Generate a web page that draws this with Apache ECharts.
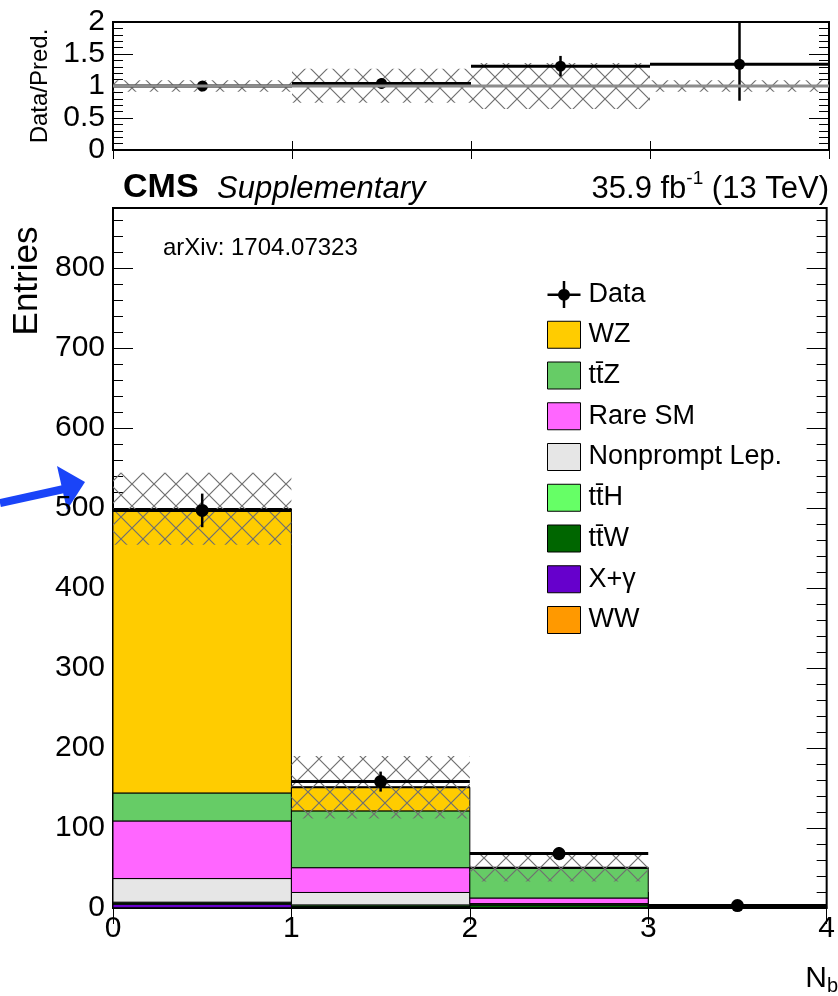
<!DOCTYPE html>
<html>
<head>
<meta charset="utf-8">
<script src="https://cdn.jsdelivr.net/npm/echarts@6/dist/echarts.min.js"></script>
<style>
html, body { margin: 0; padding: 0; background: #fff; }
#chart { width: 838px; height: 996px; }
</style>
</head>
<body>
<div id="chart"></div>
<script>
// ---- binning (number of b jets) ----
const binEdges = [0, 1, 2, 3, 4];
const xTickLabels = ['0', '1', '2', '3', '4'];

// ---- expected yields per bin, listed from the bottom of the stack upwards ----
const wwYield        = [0.3, 0.1, 0.0, 0.0];
const xGammaYield    = [4.5, 0.8, 0.3, 0.0];
const ttWYield       = [1.5, 1.5, 3.5, 1.2];
const ttHYield       = [1.0, 1.5, 1.2, 0.2];
const nonpromptYield = [29.5, 15.5, 0.5, 0.0];
const rareYield      = [72.0, 31.0, 7.0, 0.3];
const ttZYield       = [35.0, 71.0, 37.5, 0.5];
const wzYield        = [355.0, 29.5, 0.3, 0.0];

// ---- observed data ----
const dataCounts = [497, 158, 68, 3];
const dataErr    = [21, 12.5, 8.2, 1.7];

// ---- total prediction uncertainty band ----
const bandLow  = [454, 112, 33, 2.0];
const bandHigh = [544, 190, 69, 2.4];

// ---- data / prediction ----
const ratioValues    = [1.00, 1.04, 1.31, 1.34];
const ratioErrLow    = [0.05, 0.08, 0.16, 0.57];
const ratioErrHigh   = [0.05, 0.08, 0.16, 0.90];
const ratioBandLow   = [0.91, 0.74, 0.64, 0.91];
const ratioBandHigh  = [1.09, 1.27, 1.36, 1.09];

// ---- axis ticks ----
const mainYMax = 875, mainYMajor = 100, mainYMinor = 20;
const ratioYMax = 2, ratioYMajor = 0.5, ratioYMinor = 0.1;
const ratioTickLabels = { 0: '0', 0.5: '0.5', 1: '1', 1.5: '1.5', 2: '2' };

// processes: stacked order (bottom first), legend order is the reverse
const processes = [
  { name: 'WW',             yields: wwYield,        color: '#ff9900' },
  { name: 'X+γ',            yields: xGammaYield,    color: '#6600cc' },
  { name: 'tt\u0304W',      yields: ttWYield,       color: '#006600' },
  { name: 'tt\u0304H',      yields: ttHYield,       color: '#66ff66' },
  { name: 'Nonprompt Lep.', yields: nonpromptYield, color: '#e6e6e6' },
  { name: 'Rare SM',        yields: rareYield,      color: '#ff66ff' },
  { name: 'tt\u0304Z',      yields: ttZYield,       color: '#66cc66' },
  { name: 'WZ',             yields: wzYield,        color: '#ffcc00' }
];

const FONT = '"Liberation Sans", Arial, Helvetica, sans-serif';

// cross-hatch fill used for the uncertainty bands
function makeHatch() {
  const s = 22;
  const c = document.createElement('canvas');
  c.width = s; c.height = s;
  const g = c.getContext('2d');
  g.strokeStyle = '#707070';
  g.lineWidth = 1.2;
  g.beginPath();
  g.moveTo(-1, -1); g.lineTo(s + 1, s + 1);
  g.moveTo(s + 1, -1); g.lineTo(-1, s + 1);
  g.stroke();
  return c;
}
const hatch = makeHatch();

// stacked rectangles for each process
const bottoms = binEdges.slice(0, -1).map(() => 0);
const stackSeries = processes.map(p => {
  const rows = p.yields.map((v, i) => {
    const lo = bottoms[i];
    bottoms[i] += v;
    return [binEdges[i], binEdges[i + 1], lo, lo + v];
  });
  return {
    type: 'custom', name: p.name, xAxisIndex: 0, yAxisIndex: 0,
    itemStyle: { color: p.color },
    encode: { x: [0, 1], y: [2, 3] },
    data: rows,
    renderItem: (params, api) => {
      const lo = api.value(2), hi = api.value(3);
      if (!(hi > lo)) return null;
      const a = api.coord([api.value(0), hi]);
      const b = api.coord([api.value(1), lo]);
      return { type: 'rect',
        shape: { x: a[0], y: a[1], width: b[0] - a[0], height: b[1] - a[1] },
        style: { fill: api.visual('color'), stroke: '#000', lineWidth: 1 } };
    }
  };
});
const totals = bottoms.slice();

// outline on top of the stack
const stackTopSeries = {
  type: 'custom', xAxisIndex: 0, yAxisIndex: 0, silent: true,
  encode: { x: [0, 1], y: 2 },
  data: totals.map((t, i) => [binEdges[i], binEdges[i + 1], t]),
  renderItem: (params, api) => {
    const a = api.coord([api.value(0), api.value(2)]);
    const b = api.coord([api.value(1), api.value(2)]);
    return { type: 'line', shape: { x1: a[0], y1: a[1], x2: b[0], y2: b[1] },
      style: { stroke: '#000', lineWidth: 2 } };
  }
};

function bandSeries(lows, highs, xi, yi) {
  return {
    type: 'custom', xAxisIndex: xi, yAxisIndex: yi, silent: true,
    encode: { x: [0, 1], y: [2, 3] },
    data: lows.map((l, i) => [binEdges[i], binEdges[i + 1], l, highs[i]]),
    renderItem: (params, api) => {
      const a = api.coord([api.value(0), api.value(3)]);
      const b = api.coord([api.value(1), api.value(2)]);
      return { type: 'rect',
        shape: { x: a[0], y: a[1], width: b[0] - a[0], height: b[1] - a[1] },
        style: { fill: { image: hatch, repeat: 'repeat' } } };
    }
  };
}

function pointSeries(name, values, errLo, errHi, xi, yi, yMax, r) {
  return {
    type: 'custom', name: name, xAxisIndex: xi, yAxisIndex: yi,
    itemStyle: { color: '#000' },
    encode: { x: [0, 1], y: 2 },
    data: values.map((v, i) => [binEdges[i], binEdges[i + 1], v, v - errLo[i], Math.min(v + errHi[i], yMax)]),
    renderItem: (params, api) => {
      const xc = (api.value(0) + api.value(1)) / 2;
      const l = api.coord([api.value(0), api.value(2)]);
      const rr = api.coord([api.value(1), api.value(2)]);
      const c = api.coord([xc, api.value(2)]);
      const lo = api.coord([xc, api.value(3)]);
      const hi = api.coord([xc, api.value(4)]);
      return { type: 'group', children: [
        { type: 'line', shape: { x1: l[0], y1: l[1], x2: rr[0], y2: rr[1] }, style: { stroke: '#000', lineWidth: 3 } },
        { type: 'line', shape: { x1: c[0], y1: lo[1], x2: c[0], y2: hi[1] }, style: { stroke: '#000', lineWidth: 2.5 } },
        { type: 'circle', shape: { cx: c[0], cy: c[1], r: r }, style: { fill: '#000' } }
      ] };
    }
  };
}

const unityLine = {
  type: 'line', xAxisIndex: 2, yAxisIndex: 4, silent: true, symbol: 'none',
  lineStyle: { color: '#8c8c8c', width: 3 },
  data: [[binEdges[0], 1], [binEdges[binEdges.length - 1], 1]]
};

// axes helpers
function xAx(grid, pos, tickLen, showLabel) {
  return {
    type: 'value', gridIndex: grid, position: pos,
    min: binEdges[0], max: binEdges[binEdges.length - 1], interval: 1,
    axisLine: { show: false },
    axisTick: { show: true, inside: true, length: tickLen, lineStyle: { color: '#000', width: 1 } },
    axisLabel: { show: showLabel, margin: 6, fontSize: 30, color: '#000', fontFamily: FONT,
      formatter: v => xTickLabels[binEdges.indexOf(v)] ?? '' },
    splitLine: { show: false }
  };
}
function yAx(grid, pos, max, interval, tickLen, labels) {
  return {
    type: 'value', gridIndex: grid, position: pos, min: 0, max: max, interval: interval,
    axisLine: { show: false },
    axisTick: { show: true, inside: true, length: tickLen, lineStyle: { color: '#000', width: 1 } },
    axisLabel: labels ? Object.assign({ show: true, margin: 8, fontSize: 30, color: '#000', fontFamily: FONT }, labels) : { show: false },
    splitLine: { show: false }
  };
}

const mainLabels = { formatter: v => (v % mainYMajor === 0 ? String(v) : '') };
const ratioLabels = { formatter: v => ratioTickLabels[Math.round(v * 10) / 10] ?? '' };

const legendData = [{ name: 'Data',
  icon: 'path://M0,12.5h33v2.5h-33z M15.25,0h2.5v27h-2.5z M10.5,13.75a6,6 0 1,1 12,0a6,6 0 1,1 -12,0z',
  itemStyle: { borderWidth: 0 } }]
  .concat(processes.slice().reverse().map(p => ({ name: p.name })));

const option = {
  animation: false,
  backgroundColor: '#fff',
  grid: [
    { left: 113, right: 9, top: 208, bottom: 88, show: true, borderColor: '#000', borderWidth: 2, backgroundColor: 'transparent' },
    { left: 113, right: 9, top: 22, height: 128, show: true, borderColor: '#000', borderWidth: 2, backgroundColor: 'transparent' }
  ],
  xAxis: [
    xAx(0, 'bottom', 16, true),
    xAx(0, 'top', 16, false),
    xAx(1, 'bottom', 9, false),
    xAx(1, 'top', 9, false)
  ],
  yAxis: [
    yAx(0, 'left', mainYMax, mainYMajor, 20, mainLabels),
    yAx(0, 'left', mainYMax, mainYMinor, 10, null),
    yAx(0, 'right', mainYMax, mainYMajor, 20, null),
    yAx(0, 'right', mainYMax, mainYMinor, 10, null),
    Object.assign(yAx(1, 'left', ratioYMax, ratioYMajor, 20, ratioLabels), {
      name: 'Data/Pred.', nameLocation: 'middle', nameGap: 60, nameRotate: 90,
      nameTextStyle: { fontSize: 24, color: '#000', fontFamily: FONT } }),
    yAx(1, 'left', ratioYMax, ratioYMinor, 10, null),
    yAx(1, 'right', ratioYMax, ratioYMajor, 20, null),
    yAx(1, 'right', ratioYMax, ratioYMinor, 10, null)
  ],
  legend: {
    orient: 'vertical', left: 542, top: 276,
    itemWidth: 33, itemHeight: 27, itemGap: 12.75,
    icon: 'rect', selectedMode: false,
    itemStyle: { borderColor: '#000', borderWidth: 1 },
    textStyle: { fontSize: 27, lineHeight: 27, color: '#000', fontFamily: FONT, padding: [0, 0, 0, 3] },
    data: legendData
  },
  series: stackSeries.concat([
    stackTopSeries,
    bandSeries(bandLow, bandHigh, 0, 0),
    pointSeries('Data', dataCounts, dataErr, dataErr, 0, 0, mainYMax, 6.5),
    unityLine,
    bandSeries(ratioBandLow, ratioBandHigh, 2, 4),
    pointSeries('Ratio', ratioValues, ratioErrLow, ratioErrHigh, 2, 4, ratioYMax, 5.5)
  ])
};

const chart = echarts.init(document.getElementById('chart'), null, { renderer: 'canvas' });
chart.setOption(option);

// text measuring for the luminosity label
const mctx = document.createElement('canvas').getContext('2d');
function tw(str, size) { mctx.font = size + 'px ' + FONT; return mctx.measureText(str).width; }
const lumiRight = 829;
const tailW = tw(' (13 TeV)', 31);
const supW = tw('-1', 19);

chart.setOption({
  graphic: [
    { type: 'text', left: 123, top: 171, style: { text: 'CMS', font: 'bold 34px ' + FONT, fill: '#000' } },
    { type: 'text', left: 217, top: 174, style: { text: 'Supplementary', font: 'italic 31px ' + FONT, fill: '#000' } },
    { type: 'text', x: lumiRight, y: 174, style: { text: ' (13 TeV)', font: '31px ' + FONT, fill: '#000', align: 'right', verticalAlign: 'top' } },
    { type: 'text', x: lumiRight - tailW, y: 169, style: { text: '-1', font: '19px ' + FONT, fill: '#000', align: 'right', verticalAlign: 'top' } },
    { type: 'text', x: lumiRight - tailW - supW, y: 174, style: { text: '35.9 fb', font: '31px ' + FONT, fill: '#000', align: 'right', verticalAlign: 'top' } },
    { type: 'text', left: 163, top: 236, style: { text: 'arXiv: 1704.07323', font: '24px ' + FONT, fill: '#000' } },
    { type: 'text', x: 27, y: 281, rotation: Math.PI / 2,
      style: { text: 'Entries', font: '35px ' + FONT, fill: '#000', align: 'center', verticalAlign: 'middle' } },
    { type: 'text', x: 838, y: 996, style: { text: '{n|N}{b|b}', fill: '#000', align: 'right', verticalAlign: 'bottom',
      rich: { n: { font: '30px ' + FONT, fill: '#000' }, b: { font: '20px ' + FONT, fill: '#000', padding: [14, 0, 0, 0] } } } },
    // highlight arrow pointing at the first bin
    { type: 'line', shape: { x1: 0, y1: 503, x2: 64, y2: 489 }, style: { stroke: '#1a44f8', lineWidth: 8 } },
    { type: 'polygon', shape: { points: [[85, 482], [57, 466], [67, 510]] }, style: { fill: '#1a44f8' } }
  ]
});
</script>
</body>
</html>
